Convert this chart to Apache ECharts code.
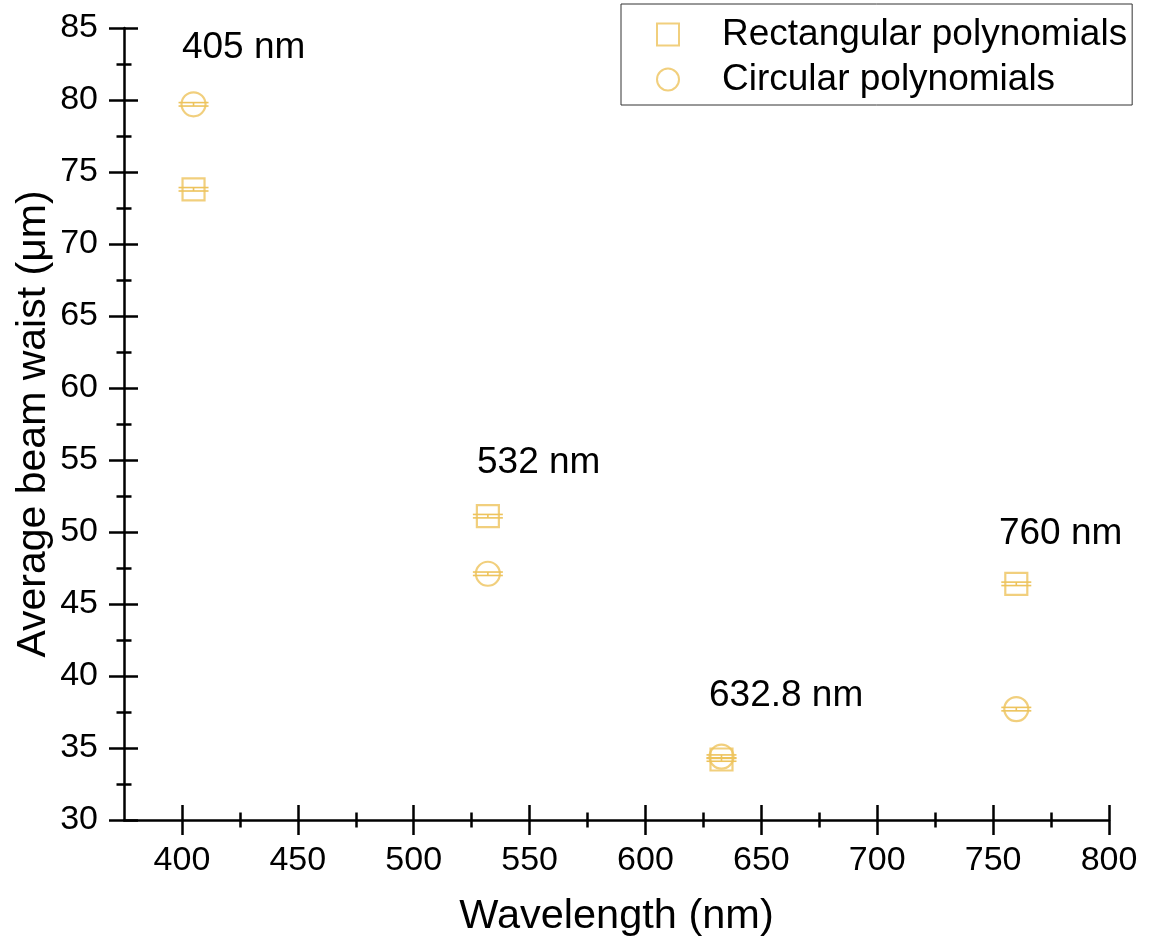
<!DOCTYPE html>
<html>
<head>
<meta charset="utf-8">
<title>Average beam waist vs wavelength</title>
<script src="https://cdn.jsdelivr.net/npm/echarts@6/dist/echarts.min.js"></script>
<style>
  html, body { margin: 0; padding: 0; background: #fff; }
  #chart { width: 1149px; height: 942px; }
</style>
</head>
<body>
<div id="chart"></div>
<script>
// Measured beam waists at each laser wavelength
const wavelengths = [405, 532, 632.8, 760];
const rectWaist = [73.8, 51.1, 34.2, 46.4];
const circWaist = [79.7, 47.1, 34.4, 37.7];
const rectErr = [0.12, 0.12, 0.12, 0.12];
const circErr = [0.12, 0.12, 0.12, 0.12];

// Wavelength annotations (anchored at their left edge)
const annText = ['405 nm', '532 nm', '632.8 nm', '760 nm'];
const annX = [400, 527.3, 627.4, 752.5];
const annY = [83.6, 54.8, 38.65, 49.9];

// Axis ticks
const xMajorTicks = [400, 450, 500, 550, 600, 650, 700, 750, 800];
const xMinorTicks = [425, 475, 525, 575, 625, 675, 725, 775];

const GOLD = '#EDC35C';
const FONT = 'Liberation Sans, Arial, sans-serif';

const rectPoints = wavelengths.map((w, i) => [w, rectWaist[i]]);
const circPoints = wavelengths.map((w, i) => [w, circWaist[i]]);
const errData = wavelengths.map((w, i) => [w, rectWaist[i], rectErr[i]])
  .concat(wavelengths.map((w, i) => [w, circWaist[i], circErr[i]]));
const annData = annX.map((x, i) => [x, annY[i], annText[i]]);

function renderErrorBar(params, api) {
  const x = api.value(0), y = api.value(1), e = api.value(2);
  const hi = api.coord([x, y + e]);
  const lo = api.coord([x, y - e]);
  const half = 15;
  const style = { stroke: GOLD, lineWidth: 1.6, fill: null };
  return {
    type: 'group',
    children: [
      { type: 'line', shape: { x1: hi[0] - half, y1: hi[1], x2: hi[0] + half, y2: hi[1] }, style },
      { type: 'line', shape: { x1: lo[0] - half, y1: lo[1], x2: lo[0] + half, y2: lo[1] }, style },
      { type: 'line', shape: { x1: hi[0], y1: hi[1], x2: lo[0], y2: lo[1] }, style }
    ]
  };
}

const baseX = { type: 'value', min: 375, max: 800, position: 'bottom', offset: 0, splitLine: { show: false } };
const baseY = { type: 'value', min: 30, max: 85, interval: 5, position: 'left', offset: 0, splitLine: { show: false } };
const tickLine = { color: '#000', width: 2.5 };

const chart = echarts.init(document.getElementById('chart'), null, { renderer: 'canvas' });
chart.setOption({
  animation: false,
  backgroundColor: '#fff',
  grid: { left: 124, right: 40, top: 28, bottom: 122, containLabel: false, outerBoundsMode: 'none' },
  legend: {
    data: ['Rectangular polynomials', 'Circular polynomials'],
    orient: 'vertical',
    left: 621,
    top: 4,
    padding: [12, 5, 7, 35],
    itemGap: 8,
    itemWidth: 22,
    itemHeight: 22,
    borderColor: '#333',
    borderWidth: 1,
    backgroundColor: '#fff',
    itemStyle: { borderWidth: 2 },
    formatter: name => '{t|' + name + '}',
    textStyle: {
      color: '#000',
      fontFamily: FONT,
      fontSize: 37,
      rich: { t: { fontFamily: FONT, fontSize: 37, color: '#000', padding: [0, 0, 0, 38] } }
    }
  },
  xAxis: [
    Object.assign({}, baseX, {
      name: 'Wavelength (nm)',
      nameLocation: 'middle',
      nameGap: 76,
      nameMoveOverlap: false,
      nameTextStyle: { fontFamily: FONT, fontSize: 41.5, color: '#000' },
      axisLine: { show: true, lineStyle: tickLine },
      axisTick: { show: true, length: 15, lineStyle: tickLine, customValues: xMajorTicks },
      axisLabel: { show: true, margin: 24, fontFamily: FONT, fontSize: 34, color: '#000', customValues: xMajorTicks }
    }),
    Object.assign({}, baseX, {
      axisLine: { show: false },
      axisTick: { show: true, inside: true, length: 15, lineStyle: tickLine, customValues: xMajorTicks },
      axisLabel: { show: false }
    }),
    Object.assign({}, baseX, {
      axisLine: { show: false },
      axisTick: { show: true, length: 7.5, lineStyle: tickLine, customValues: xMinorTicks },
      axisLabel: { show: false }
    }),
    Object.assign({}, baseX, {
      axisLine: { show: false },
      axisTick: { show: true, inside: true, length: 7.5, lineStyle: tickLine, customValues: xMinorTicks },
      axisLabel: { show: false }
    })
  ],
  yAxis: [
    Object.assign({}, baseY, {
      name: 'Average beam waist (\u03bcm)',
      nameLocation: 'middle',
      nameGap: 70,
      nameMoveOverlap: false,
      nameTextStyle: { fontFamily: FONT, fontSize: 41, color: '#000' },
      axisLine: { show: true, lineStyle: tickLine },
      axisTick: { show: true, length: 15, lineStyle: tickLine },
      minorTick: { show: true, splitNumber: 2, length: 7.5, lineStyle: tickLine },
      axisLabel: { show: true, margin: 26, fontFamily: FONT, fontSize: 34, color: '#000' }
    }),
    Object.assign({}, baseY, {
      axisLine: { show: false },
      axisTick: { show: true, inside: true, length: 14, lineStyle: tickLine },
      minorTick: { show: true, splitNumber: 2, length: 7.5, lineStyle: tickLine },
      axisLabel: { show: false }
    })
  ],
  series: [
    {
      name: 'Rectangular polynomials',
      type: 'scatter',
      symbol: 'rect',
      symbolSize: 22,
      itemStyle: { color: 'rgba(255,255,255,0)', borderColor: GOLD, borderWidth: 2.2 },
      data: rectPoints,
      z: 3
    },
    {
      name: 'Circular polynomials',
      type: 'scatter',
      symbol: 'circle',
      symbolSize: 24,
      itemStyle: { color: 'rgba(255,255,255,0)', borderColor: GOLD, borderWidth: 2.2 },
      data: circPoints,
      z: 3
    },
    {
      name: 'error',
      type: 'custom',
      renderItem: renderErrorBar,
      data: errData,
      z: 4,
      silent: true
    },
    {
      name: 'annotations',
      type: 'scatter',
      symbolSize: 0,
      itemStyle: { color: '#000' },
      data: annData,
      silent: true,
      label: {
        show: true,
        position: 'right',
        distance: 0,
        formatter: p => p.data[2],
        fontFamily: FONT,
        fontSize: 37,
        color: '#000',
        opacity: 1
      }
    }
  ]
});
</script>
</body>
</html>
